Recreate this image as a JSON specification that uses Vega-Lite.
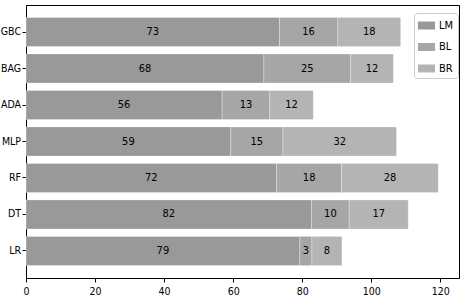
{
  "$schema": "https://vega.github.io/schema/vega-lite/v6.json",
  "width": 433,
  "height": 273,
  "autosize": {"type": "none"},
  "padding": {"left": 26, "top": 5, "right": 4, "bottom": 28},
  "background": "white",
  "config": {
    "view": {"stroke": "black", "strokeWidth": 1},
    "font": "DejaVu Sans Condensed, Liberation Sans",
    "axis": {
      "labelFont": "DejaVu Sans Condensed, Liberation Sans",
      "labelFontSize": 10.5,
      "labelColor": "black",
      "domainColor": "black",
      "tickColor": "black",
      "tickSize": 4,
      "grid": false,
      "title": null
    }
  },
  "data": {
    "values": [
      {"model": "GBC", "series": "LM", "k": 0, "value": 73.4, "label": 73},
      {"model": "GBC", "series": "BL", "k": 1, "value": 16.9, "label": 16},
      {"model": "GBC", "series": "BR", "k": 2, "value": 18.2, "label": 18},
      {"model": "BAG", "series": "LM", "k": 0, "value": 68.9, "label": 68},
      {"model": "BAG", "series": "BL", "k": 1, "value": 25.1, "label": 25},
      {"model": "BAG", "series": "BR", "k": 2, "value": 12.4, "label": 12},
      {"model": "ADA", "series": "LM", "k": 0, "value": 56.8, "label": 56},
      {"model": "ADA", "series": "BL", "k": 1, "value": 13.8, "label": 13},
      {"model": "ADA", "series": "BR", "k": 2, "value": 12.6, "label": 12},
      {"model": "MLP", "series": "LM", "k": 0, "value": 59.3, "label": 59},
      {"model": "MLP", "series": "BL", "k": 1, "value": 15.1, "label": 15},
      {"model": "MLP", "series": "BR", "k": 2, "value": 32.9, "label": 32},
      {"model": "RF", "series": "LM", "k": 0, "value": 72.6, "label": 72},
      {"model": "RF", "series": "BL", "k": 1, "value": 18.8, "label": 18},
      {"model": "RF", "series": "BR", "k": 2, "value": 28.0, "label": 28},
      {"model": "DT", "series": "LM", "k": 0, "value": 82.7, "label": 82},
      {"model": "DT", "series": "BL", "k": 1, "value": 10.9, "label": 10},
      {"model": "DT", "series": "BR", "k": 2, "value": 17.1, "label": 17},
      {"model": "LR", "series": "LM", "k": 0, "value": 79.3, "label": 79},
      {"model": "LR", "series": "BL", "k": 1, "value": 3.5, "label": 3},
      {"model": "LR", "series": "BR", "k": 2, "value": 8.7, "label": 8}
    ]
  },
  "encoding": {
    "y": {
      "field": "model",
      "type": "nominal",
      "sort": ["GBC", "BAG", "ADA", "MLP", "RF", "DT", "LR"],
      "scale": {"paddingInner": 0.2, "paddingOuter": 0.34},
      "axis": {"labelPadding": 1.5, "labelAngle": 0}
    },
    "order": {"field": "k", "type": "quantitative"}
  },
  "layer": [
    {
      "mark": {"type": "bar", "stroke": "white", "strokeWidth": 0.6, "strokeOpacity": 0.5},
      "encoding": {
        "x": {
          "field": "value",
          "type": "quantitative",
          "stack": "zero",
          "scale": {"domain": [0, 125.4], "nice": false, "zero": true},
          "axis": {"values": [0, 20, 40, 60, 80, 100, 120], "labelPadding": 4, "labelFlush": false}
        },
        "color": {
          "field": "series",
          "type": "nominal",
          "sort": ["LM", "BL", "BR"],
          "scale": {"domain": ["LM", "BL", "BR"], "range": ["#999999", "#a6a6a6", "#b4b4b4"]},
          "legend": {
            "orient": "none",
            "legendX": 388,
            "legendY": 8,
            "title": null,
            "fillColor": "white",
            "strokeColor": "#cccccc",
            "cornerRadius": 3,
            "padding": 4,
            "symbolType": "M-1,-0.47H1V0.47H-1Z",
            "symbolSize": 289,
            "symbolStrokeWidth": 0,
            "symbolOpacity": 1,
            "labelFont": "DejaVu Sans Condensed, Liberation Sans",
            "labelFontSize": 11,
            "labelColor": "black",
            "rowPadding": 7.5,
            "labelOffset": 4
          }
        }
      }
    },
    {
      "mark": {"type": "text", "fontSize": 11, "font": "DejaVu Sans Condensed, Liberation Sans", "color": "black", "baseline": "middle", "align": "center"},
      "encoding": {
        "x": {"field": "value", "type": "quantitative", "stack": "zero", "bandPosition": 0.5},
        "detail": {"field": "series"},
        "text": {"field": "label", "type": "quantitative"}
      }
    }
  ]
}
